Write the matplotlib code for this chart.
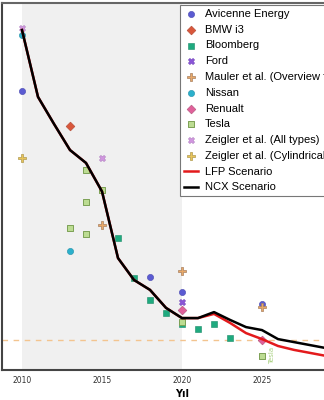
import matplotlib
matplotlib.use("Agg")
import matplotlib.pyplot as plt

# battery pack cost estimates ($/kWh)
avicenne_years = [2010, 2018, 2020, 2025]
avicenne_vals = [930, 310, 260, 220]
bmw_years = [2013]
bmw_vals = [813]
bloomberg_years = [2016, 2017, 2018, 2019, 2020, 2021, 2022, 2023]
bloomberg_vals = [440, 307, 233, 190, 153, 137, 153, 107]
ford_years = [2020]
ford_vals = [227]
mauler_years = [2015, 2020, 2025]
mauler_vals = [483, 330, 210]
nissan_years = [2010, 2013]
nissan_vals = [1117, 397]
renault_years = [2020, 2025]
renault_vals = [200, 100]
tesla_years = [2013, 2014, 2014, 2014, 2015, 2020, 2025]
tesla_vals = [473, 667, 560, 453, 600, 160, 47]
zeigler_all_years = [2010, 2015]
zeigler_all_vals = [1140, 707]
zeigler_cyl_years = [2010]
zeigler_cyl_vals = [707]

scen_years = list(range(2010, 2031))
ncx_vals = [1133, 910, 820, 733, 690, 595, 373, 300, 267, 207, 173,
            173, 193, 167, 143, 133, 103, 93, 83, 73, 63]
lfp_vals = [1133, 910, 820, 733, 690, 595, 373, 300, 267, 207, 173,
            173, 187, 157, 123, 103, 80, 67, 57, 47, 37]

target_cost = 100
year_ticks = [2010, 2015, 2020, 2025]

fig = plt.figure(figsize=(3.24, 4.0), dpi=100)
ax = fig.add_axes([2 / 324, 30 / 400, 360 / 324, 367 / 400])

ax.axvspan(2010, 2020, color="#f0f0f0", zorder=0, lw=0)
ax.axhline(target_cost, color="#f3c48f", lw=1, dashes=(4, 4), zorder=1)

ms = 20
ax.scatter(avicenne_years, avicenne_vals, s=ms, marker="o", color="#5b5bd2",
           edgecolor="#4848b0", lw=0.4, label="Avicenne Energy", zorder=3)
ax.scatter(bmw_years, bmw_vals, s=ms, marker="D", color="#d9573b",
           edgecolor="#b04530", lw=0.4, label="BMW i3", zorder=3)
ax.scatter(bloomberg_years, bloomberg_vals, s=ms, marker="s", color="#1faa7f",
           edgecolor="#188a66", lw=0.4, label="Bloomberg", zorder=3)
ax.scatter(ford_years, ford_vals, s=ms, marker="X", color="#8b55d9",
           edgecolor="#6f40b8", lw=0.4, label="Ford", zorder=3)
ax.scatter(mauler_years, mauler_vals, s=ms + 6, marker="P", color="#e8a868",
           edgecolor="#a88060", lw=0.5, label="Mauler et al. (Overview for EVs)", zorder=3)
ax.scatter(nissan_years, nissan_vals, s=ms, marker="o", color="#2bb0cc",
           edgecolor="#2090a8", lw=0.4, label="Nissan", zorder=3)
ax.scatter(renault_years, renault_vals, s=ms, marker="D", color="#e0609a",
           edgecolor="#b0507a", lw=0.4, label="Renualt", zorder=3)
ax.scatter(tesla_years, tesla_vals, s=ms, marker="s", color="#bcdc92",
           edgecolor="#7ca055", lw=0.7, label="Tesla", zorder=3)
ax.scatter(zeigler_all_years, zeigler_all_vals, s=ms, marker="X", color="#d296e0",
           edgecolor="#b080c0", lw=0.4, label="Zeigler et al. (All types)", zorder=3)
ax.scatter(zeigler_cyl_years, zeigler_cyl_vals, s=ms + 6, marker="P", color="#e8c45a",
           edgecolor="#b09a50", lw=0.5, label="Zeigler et al. (Cylindrical)", zorder=3)

ax.plot(scen_years, lfp_vals, color="#e31a1c", lw=1.8, label="LFP Scenario", zorder=4)
ax.plot(scen_years, ncx_vals, color="black", lw=1.8, label="NCX Scenario", zorder=5)

ax.text(2025.6, tesla_vals[-1], "Tesla", rotation=90, color="#a8d080",
        fontsize=5, ha="center", va="center")

ax.set_xlim(2008.75, 2031.25)
ax.set_ylim(0, 1223)
ax.set_yticks([])
ax.set_xticks(year_ticks)
ax.tick_params(axis="x", length=0, pad=4, labelsize=5.5, labelcolor="#333333")
ax.set_xlabel("Yıl", fontsize=7, fontweight="bold", labelpad=3)

for side in ["left", "bottom", "top"]:
    ax.spines[side].set_color("#444444")
    ax.spines[side].set_linewidth(1.5)
ax.spines["top"].set_color("#666666")

leg = ax.legend(loc="upper left", bbox_to_anchor=(180 / 324, 1 - 5 / 400),
                bbox_transform=fig.transFigure, fancybox=False, framealpha=1,
                edgecolor="#777777", prop={"family": "Liberation Sans", "size": 8},
                labelspacing=0.52, handlelength=1.3, handletextpad=0.6,
                borderpad=0.35, borderaxespad=0)
leg.get_frame().set_linewidth(0.8)

fig.savefig("out.png", dpi=100)
